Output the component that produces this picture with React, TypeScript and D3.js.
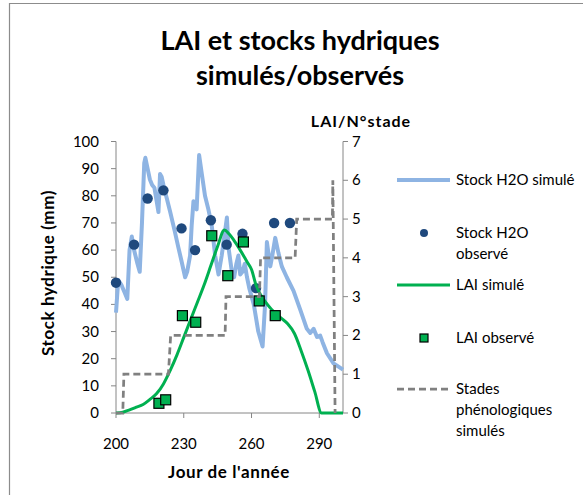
import React from "react";
import * as d3 from "d3";

// ---- data ----
const stockSimDays = [200, 201, 202.5, 204, 205, 206, 207, 208, 209.5, 210.5, 211.5, 212.5, 213, 214, 215, 216, 217, 218, 218.8, 219.5, 220.2, 221, 222.5, 224, 226, 227.6, 229, 230.6, 231.5, 232.8, 233.5, 234.3, 235, 235.7, 236.8, 238, 239.4, 240.9, 242.4, 243.9, 245.4, 246.8, 248.3, 249.1, 249.8, 251.3, 252.3, 253.3, 254.2, 255, 256, 257, 258, 259, 261, 263, 264.9, 266, 266.8, 268.3, 269.2, 270.5, 271.9, 273.4, 275.6, 278.6, 281.6, 284.5, 286, 287.5, 289, 290.4, 291.5, 293.4, 296.3, 300.5];
const stockSimValues = [37, 49, 47, 44, 42, 60, 65, 60, 55, 52, 70, 92, 94, 90, 86, 84, 83, 78, 74, 88, 87, 84, 79, 74, 67, 61, 56, 50, 52, 58, 69, 78, 77, 75, 95, 88, 80, 75, 69, 58, 51, 58, 67, 72, 61, 52, 50, 55, 58, 51, 52, 55, 50, 46, 40, 30, 24.5, 40, 63, 54, 58, 64.5, 59, 54, 50, 45, 38, 31, 29.5, 31, 28, 28.5, 26, 22, 18.3, 16];

const stockObsDays = [200, 208, 214, 221, 229, 235, 242, 249, 256, 262, 270, 277];
const stockObsValues = [48, 62, 79, 82, 68, 60, 71, 62, 66, 46, 70, 70];

const laiSimDays = [200, 203, 206, 209, 212, 215, 218, 221, 224, 227, 230, 233, 236, 239, 242, 245, 248, 250, 252, 255, 258, 260, 262, 264, 267, 270, 273, 276, 279, 282, 285, 288, 291, 300.5];
const laiSimValues = [0, 0.02, 0.08, 0.15, 0.22, 0.35, 0.5, 0.75, 1.1, 1.5, 1.95, 2.4, 2.85, 3.3, 3.8, 4.3, 4.72, 4.62, 4.47, 4.2, 3.9, 3.7, 3.3, 3.05, 2.8, 2.6, 2.45, 2.3, 2.05, 1.6, 1.1, 0.55, 0, 0];

const laiObsDays = [219, 222, 229.4, 235.3, 242.4, 249.5, 256.4, 263.4, 270.5];
const laiObsValues = [0.25, 0.34, 2.51, 2.34, 4.57, 3.54, 4.41, 2.89, 2.51];

const stageDays = [200, 203, 203.5, 223.2, 224.2, 248.3, 248.7, 263.5, 264, 279.3, 280, 295.8, 296, 297];
const stageValues = [0, 0, 1, 1, 2, 2, 3, 3, 4, 4, 5, 5, 6, 0];

const xTicks = [200, 230, 260, 290];
const yLeftTicks = [0, 10, 20, 30, 40, 50, 60, 70, 80, 90, 100];
const yRightTicks = [0, 1, 2, 3, 4, 5, 6, 7];

const titleLines = ["LAI et stocks hydriques", "simulés/observés"];
const legendLabels = [
  ["Stock H2O simulé"],
  ["Stock H2O", "observé"],
  ["LAI simulé"],
  ["LAI observé"],
  ["Stades", "phénologiques", "simulés"],
];

const FONT = "Lato, 'Open Sans', sans-serif";
const AXIS = "#868686";
const BLUE_LIGHT = "#8EB4E3";
const BLUE_DARK = "#1F497D";
const GREEN = "#00B050";
const GRAY = "#808080";

export default function App() {
  const x = d3.scaleLinear().domain([200, 300.5]).range([116, 343]);
  const yL = d3.scaleLinear().domain([0, 100]).range([413, 141.5]);
  const yR = d3.scaleLinear().domain([0, 7]).range([413, 141.5]);

  const stockLine = d3
    .line<number>()
    .x((_, i) => x(stockSimDays[i]))
    .y((v) => yL(v))
    .curve(d3.curveLinear)(stockSimValues) || "";

  const laiLine = d3
    .line<number>()
    .x((_, i) => x(laiSimDays[i]))
    .y((v) => yR(v))
    .curve(d3.curveMonotoneX)(laiSimValues) || "";

  const stageLine = d3
    .line<number>()
    .x((_, i) => x(stageDays[i]))
    .y((v) => yR(v))(stageValues) || "";

  const legX0 = 397;
  const legX1 = 450;
  const legMid = (legX0 + legX1) / 2 + 0.5;
  const legTextX = 456;
  const legY = [180, 233, 285, 338, 389];

  return (
    <svg
      width={583}
      height={495}
      style={{ position: "absolute", left: 0, top: 0, background: "#fff" }}
      fontFamily={FONT}
    >
      <rect x={0} y={0} width={583} height={495} fill="#fff" />
      {/* frame */}
      <path d="M9.5,500 L9.5,3.5 L590,3.5" fill="none" stroke="#8c8c8c" strokeWidth={1.2} />

      {/* title */}
      {titleLines.map((t, i) => (
        <text
          key={i}
          x={300}
          y={50 + i * 35}
          textAnchor="middle"
          fontSize={27}
          fontWeight="bold"
          fill="#000"
        >
          {t}
        </text>
      ))}

      {/* axes */}
      <line x1={116} x2={116} y1={141.5} y2={413} stroke={AXIS} strokeWidth={1} />
      <line x1={343} x2={343} y1={141.5} y2={413} stroke={AXIS} strokeWidth={1} />
      <line x1={116} x2={343} y1={413} y2={413} stroke={AXIS} strokeWidth={1} />

      {yLeftTicks.map((t) => (
        <g key={"l" + t}>
          <line x1={111} x2={116} y1={yL(t)} y2={yL(t)} stroke={AXIS} />
          <text x={99} y={yL(t) + 5} textAnchor="end" fontSize={15} fill="#000">
            {t}
          </text>
        </g>
      ))}
      {yRightTicks.map((t) => (
        <g key={"r" + t}>
          <line x1={343} x2={348} y1={yR(t)} y2={yR(t)} stroke={AXIS} />
          <text x={352} y={yR(t) + 5} textAnchor="start" fontSize={15} fill="#000">
            {t}
          </text>
        </g>
      ))}
      {xTicks.map((t) => (
        <g key={"x" + t}>
          <line x1={x(t)} x2={x(t)} y1={413} y2={418} stroke={AXIS} />
          <text x={x(t)} y={449} textAnchor="middle" fontSize={15} fill="#000">
            {t}
          </text>
        </g>
      ))}

      {/* axis titles */}
      <text
        transform="translate(54,273) rotate(-90)"
        textAnchor="middle"
        fontSize={17}
        fontWeight="bold"
        fill="#000"
        letterSpacing={0.6}
      >
        Stock hydrique (mm)
      </text>
      <text x={361} y={127} textAnchor="middle" fontSize={16} fontWeight="bold" fill="#000" letterSpacing={1}>
        LAI/N°stade
      </text>
      <text x={229} y={478} textAnchor="middle" fontSize={17} fontWeight="bold" fill="#000" letterSpacing={0.6}>
        Jour de l'année
      </text>

      {/* series */}
      <path d={stockLine} fill="none" stroke={BLUE_LIGHT} strokeWidth={4} strokeLinejoin="round" />
      {stockObsValues.map((v, i) => (
        <circle key={"so" + i} cx={x(stockObsDays[i])} cy={yL(v)} r={5.2} fill={BLUE_DARK} />
      ))}
      <path d={laiLine} fill="none" stroke={GREEN} strokeWidth={3} strokeLinejoin="round" />
      {laiObsValues.map((v, i) => (
        <rect
          key={"lo" + i}
          x={x(laiObsDays[i]) - 5}
          y={yR(v) - 5}
          width={10}
          height={10}
          fill={GREEN}
          stroke="#000"
          strokeWidth={1.2}
        />
      ))}
      <path d={stageLine} fill="none" stroke={GRAY} strokeWidth={2.75} strokeDasharray="7,4" />

      {/* legend */}
      <line x1={legX0} x2={legX1} y1={legY[0]} y2={legY[0]} stroke={BLUE_LIGHT} strokeWidth={4} />
      <circle cx={legMid} cy={legY[1]} r={4} fill={BLUE_DARK} />
      <line x1={legX0} x2={legX1} y1={legY[2]} y2={legY[2]} stroke={GREEN} strokeWidth={3} />
      <rect x={legMid - 4} y={legY[3] - 4} width={8} height={8} fill={GREEN} stroke="#000" strokeWidth={1.2} />
      <line x1={legX0} x2={legX1} y1={legY[4]} y2={legY[4]} stroke={GRAY} strokeWidth={2.75} strokeDasharray="7,4" />
      {legendLabels.map((lines, i) =>
        lines.map((s, j) => (
          <text
            key={"lg" + i + "-" + j}
            x={legTextX}
            y={legY[i] + 5 + j * 21}
            fontSize={15}
            fill="#000"
          >
            {s}
          </text>
        ))
      )}
    </svg>
  );
}
